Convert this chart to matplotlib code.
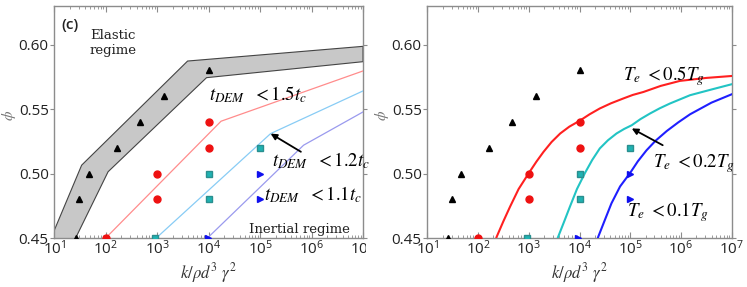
import numpy as np
import matplotlib
matplotlib.use("Agg")
import matplotlib.pyplot as plt
from matplotlib.ticker import LogLocator, FixedLocator, NullFormatter
from matplotlib.transforms import Bbox, TransformedBbox

plt.rcParams['mathtext.fontset'] = 'stix'
plt.rcParams['font.family'] = ['Open Sans', 'DejaVu Sans']

# ---- data (shared markers) ----
tri_x = [26, 30, 47, 166, 470, 1365, 1e4]
tri_y = [0.45, 0.48, 0.50, 0.52, 0.54, 0.56, 0.58]
circ_x = [100, 1000, 1000, 1e4, 1e4]
circ_y = [0.45, 0.48, 0.50, 0.52, 0.54]
sq_x = [910, 1e4, 1e4, 1e5]
sq_y = [0.45, 0.48, 0.50, 0.52]
rtri_x = [9500, 1e5, 1e5]
rtri_y = [0.45, 0.48, 0.50]

# ---- left panel: band and piecewise lines ----
band_upper_x = [8, 10, 34, 3900, 1e7]
band_upper_y = [0.4445, 0.456, 0.5065, 0.5873, 0.5987]
band_lower_x = [20, 26, 111, 9100, 1e7]
band_lower_y = [0.44, 0.45, 0.5014, 0.5744, 0.5868]

red_lin_x = [100, 17400, 1e7]
red_lin_y = [0.45, 0.5406, 0.5796]
cyan_lin_x = [960, 1.6e5, 1e7]
cyan_lin_y = [0.45, 0.531, 0.5641]
blue_lin_x = [9500, 7e5, 1e7]
blue_lin_y = [0.45, 0.522, 0.5478]

# ---- right panel: curves (log10 k, phi) ----
red_cur_logx = [2.30, 2.368, 2.50, 2.63, 2.80, 3.005, 3.15, 3.29, 3.45, 3.62, 3.80, 4.0,
                4.20, 4.40, 4.62, 4.86, 5.05, 5.26, 5.60, 5.98, 6.5, 7.0]
red_cur_y = [0.443, 0.451, 0.463, 0.4742, 0.488, 0.5006, 0.5092, 0.5168, 0.5245, 0.5311,
             0.5364, 0.5409, 0.5460, 0.5505, 0.5545, 0.5582, 0.5610, 0.5633, 0.5680,
             0.5719, 0.5742, 0.5757]
cyan_cur_logx = [3.50, 3.58, 3.70, 3.81, 3.95, 4.11, 4.25, 4.40, 4.56, 4.73, 4.88, 5.03,
                 5.20, 5.39, 5.58, 5.78, 6.18, 6.6, 7.0]
cyan_cur_y = [0.442, 0.451, 0.463, 0.4742, 0.488, 0.5006, 0.5105, 0.5195, 0.5258, 0.5311,
              0.5346, 0.5375, 0.5422, 0.5466, 0.5506, 0.5543, 0.5608, 0.5652, 0.5693]
blue_cur_logx = [4.30, 4.37, 4.50, 4.63, 4.80, 5.0, 5.15, 5.32, 5.50, 5.72, 5.95, 6.18,
                 6.6, 7.0]
blue_cur_y = [0.443, 0.451, 0.464, 0.4769, 0.490, 0.5006, 0.5095, 0.518, 0.5255, 0.533,
              0.5398, 0.546, 0.555, 0.5615]

W, H = 747, 287
fig = plt.figure(figsize=(W / 100, H / 100), dpi=100)
axL = fig.add_axes([54.3 / W, 1 - 238 / H, (363 - 54.3) / W, (238 - 6) / H])
axR = fig.add_axes([427.3 / W, 1 - 238 / H, (731.7 - 427.3) / W, (238 - 6) / H])

spine_col = '#8c8c8c'
serif = 'DejaVu Serif'

def style(ax, width_px):
    ax.set_xscale('log')
    ax.set_xlim(10, 1e7)
    ax.set_ylim(0.45, 0.63)
    ax.xaxis.set_major_locator(LogLocator(base=10, numticks=10))
    ax.xaxis.set_minor_locator(LogLocator(base=10, subs=np.arange(2, 10), numticks=20))
    ax.xaxis.set_minor_formatter(NullFormatter())
    ax.yaxis.set_major_locator(FixedLocator([0.45, 0.50, 0.55, 0.60]))
    ax.set_yticklabels(['0.45', '0.50', '0.55', '0.60'])
    for s in ax.spines.values():
        s.set_color(spine_col)
        s.set_linewidth(1.0)
    ax.tick_params(axis='x', which='both', direction='in', top=True, bottom=True,
                   color=spine_col, labelsize=11, pad=1, labelcolor='#222222')
    ax.tick_params(axis='x', which='major', length=4)
    ax.tick_params(axis='x', which='minor', length=2)
    ax.tick_params(axis='y', which='both', direction='out', left=True, right=True,
                   color=spine_col, length=3, labelsize=11, pad=1, labelcolor='#222222')
    ax.set_xlabel(r'$k/\rho d^3\ \gamma^2$', fontsize=12, labelpad=2, color='#333333')
    ax.set_ylabel(r'$\phi$', fontsize=11, color='#777777')
    ax.yaxis.set_label_coords(-36.0 / width_px, 0.53)
    ms = 5
    ax.plot(tri_x, tri_y, '^', color='black', ms=ms, zorder=5)
    ax.plot(circ_x, circ_y, 'o', color='#ee1111', ms=ms, zorder=5)
    ax.plot(sq_x, sq_y, 's', color='#20b2b2', mec='#2a8f8f', ms=ms, zorder=5)
    ax.plot(rtri_x, rtri_y, '>', color='#1010ee', ms=ms, zorder=5)

style(axL, 308.7)
style(axR, 304.4)

# ---- left panel ----
bx = np.concatenate([band_upper_x, band_lower_x[::-1]])
by = np.concatenate([band_upper_y, band_lower_y[::-1]])
axL.fill(bx, by, facecolor='#c8c8c8', edgecolor='#444444', lw=0.8, zorder=2)
axL.plot(red_lin_x, red_lin_y, color='#ff8c8c', lw=0.9, zorder=3)
axL.plot(cyan_lin_x, cyan_lin_y, color='#88ccf5', lw=0.9, zorder=3)
axL.plot(blue_lin_x, blue_lin_y, color='#9a9aee', lw=0.9, zorder=3)
axL.annotate('', xy=(1.6e5, 0.531), xytext=(6.2e5, 0.5169),
             arrowprops=dict(arrowstyle='-|>', color='black', lw=1.3,
                             mutation_scale=9, shrinkA=0, shrinkB=0), zorder=6)

axL.text(13.9, 0.615, '(c)', fontsize=11, ha='left', va='center', color='#222222',
         fontweight='semibold')
axL.text(49, 0.601, 'Elastic\nregime', fontsize=9.5, ha='left', va='center',
         family=serif, linespacing=1.2, color='#222222')
axL.text(1e4, 0.561, r'$t_{DEM}\ \ <1.5t_c$', fontsize=13.5, ha='left', va='center')
axL.text(10 ** 5.24, 0.5104, r'$t_{DEM}\ \ <1.2t_c$', fontsize=13.5, ha='left', va='center',
         clip_on=False)
axL.text(10 ** 5.08, 0.4833, r'$t_{DEM}\ \ <1.1t_c$', fontsize=13.5, ha='left', va='center')
axL.text(10 ** 4.79, 0.4567, 'Inertial regime', fontsize=9.5, ha='left', va='center',
         family=serif, color='#222222')

# ---- right panel ----
axR.plot(10 ** np.array(red_cur_logx), red_cur_y, color='#ff2020', lw=1.5, zorder=3)
axR.plot(10 ** np.array(cyan_cur_logx), cyan_cur_y, color='#22c4c4', lw=1.5, zorder=3)
axR.plot(10 ** np.array(blue_cur_logx), blue_cur_y, color='#1f1fff', lw=1.5, zorder=3)
axR.annotate('', xy=(10 ** 5.03, 0.535), xytext=(10 ** 5.64, 0.522),
             arrowprops=dict(arrowstyle='-|>', color='black', lw=1.3,
                             mutation_scale=9, shrinkA=0, shrinkB=0), zorder=6)
axR.text(10 ** 4.85, 0.576, r'$T_e\ <0.5T_g$', fontsize=13.5, ha='left', va='center')
axR.text(10 ** 5.44, 0.5079, r'$T_e\ <0.2T_g$', fontsize=13.5, ha='left', va='center')
axR.text(10 ** 4.94, 0.4704, r'$T_e\ <0.1T_g$', fontsize=13.5, ha='left', va='center')

# clip the last x tick label of the left panel as in the reference
fig.canvas.draw()
clipbox = TransformedBbox(Bbox([[0, 0], [366 / W, 1]]), fig.transFigure)
for lab in axL.get_xticklabels():
    lab.set_clip_box(clipbox)
    lab.set_clip_on(True)

fig.savefig('out.png', dpi=100)
